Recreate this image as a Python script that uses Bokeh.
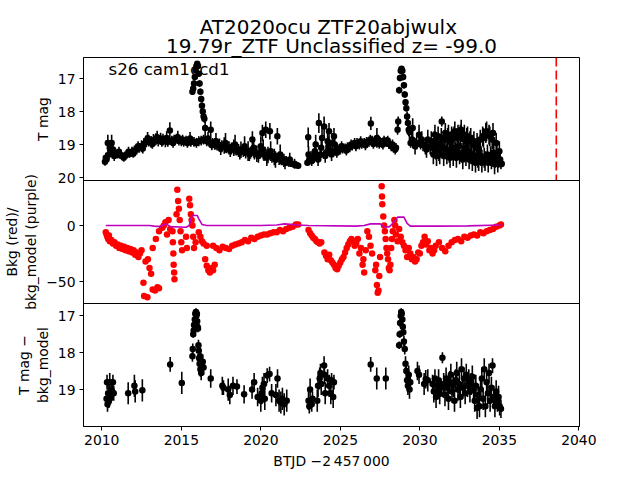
from bokeh.plotting import figure
from bokeh.layouts import column
from bokeh.models import Range1d, FixedTicker, Label, Span, LinearAxis
from bokeh.embed import file_html
from bokeh.resources import INLINE

FONT = "DejaVu Sans"

TITLE1 = "AT2020ocu  ZTF20abjwulx"
TITLE2 = "19.79r_ZTF Unclassified z= -99.0"
SECTOR_TEXT = "s26 cam1ccd1"
DISC_T = 2038.58

# ---------------- Panel 1: T mag light curve (time, mag, error) ----------------
t_lc = [2010.20, 2010.30, 2010.38, 2010.45, 2010.55, 2010.62, 2010.70, 2010.85, 2011.00, 2011.15,
        2011.30, 2011.45, 2011.60, 2011.75, 2011.90, 2012.05, 2012.20, 2012.35, 2012.50, 2012.65,
        2012.80, 2012.95, 2013.10, 2013.25, 2013.40, 2013.55, 2013.70, 2013.85, 2014.00, 2014.15,
        2014.28, 2014.40, 2014.55, 2014.70, 2014.85, 2015.00, 2015.15, 2015.30, 2015.45, 2015.60,
        2015.70, 2015.75, 2015.80, 2015.85, 2015.90, 2015.95, 2016.00, 2016.05, 2016.10, 2016.15,
        2016.20, 2016.25, 2016.30, 2016.35, 2016.40, 2016.45, 2016.50,
        2015.80, 2015.95, 2016.10, 2016.25, 2016.40, 2016.60, 2016.75, 2016.85, 2016.95, 2017.10,
        2017.25, 2017.40, 2017.55, 2017.70, 2017.85, 2018.00, 2018.15, 2018.30, 2018.45, 2018.60,
        2018.75, 2018.90, 2019.05, 2019.20, 2019.35, 2019.47, 2019.60, 2019.75, 2019.90, 2020.00,
        2020.10, 2020.20, 2020.31, 2020.45, 2020.57, 2020.70, 2020.85, 2021.04, 2021.00, 2021.15,
        2021.30, 2021.45, 2021.60, 2021.75, 2021.90, 2022.05, 2022.20, 2022.35,
        2010.25, 2010.50, 2010.78, 2011.08, 2011.38, 2011.68, 2011.98, 2012.28, 2012.58, 2012.88,
        2013.18, 2013.48, 2013.78, 2014.08, 2014.48, 2014.78, 2015.08, 2015.38, 2015.55, 2016.68,
        2016.92, 2017.18, 2017.48, 2017.78, 2018.08, 2018.38, 2018.68, 2018.98, 2019.28, 2019.55,
        2019.85, 2020.15, 2020.38, 2020.62, 2020.92, 2021.22, 2021.52, 2021.82, 2022.12,
        2022.93, 2022.98, 2023.05, 2023.15, 2023.25, 2023.35, 2023.45, 2023.55, 2023.65, 2023.75,
        2023.85, 2023.98, 2024.10, 2024.20, 2024.29, 2024.40, 2024.50, 2024.60, 2024.70, 2024.85,
        2025.00, 2025.15, 2025.30, 2025.45, 2025.60, 2025.75, 2025.90, 2026.05, 2026.20, 2026.35,
        2026.50, 2026.65, 2026.80, 2026.92, 2027.00, 2027.15, 2027.30, 2027.45, 2027.60, 2027.75,
        2027.90, 2028.05, 2028.20, 2028.35, 2028.50, 2028.60, 2028.64, 2028.70, 2028.75, 2028.80,
        2028.85, 2028.90, 2028.95, 2029.00, 2029.05, 2029.10, 2029.15, 2029.20, 2029.25, 2029.30,
        2029.35, 2029.42, 2029.55, 2029.62, 2029.80, 2029.95, 2030.05, 2030.20, 2030.35, 2030.50,
        2030.65, 2030.80, 2030.90, 2031.00, 2031.10, 2031.20, 2031.30, 2031.38, 2031.45, 2031.55,
        2031.65, 2031.75, 2031.85, 2031.95, 2032.05, 2032.15, 2032.25, 2032.35, 2032.45, 2032.55,
        2032.65, 2032.75, 2032.85, 2032.95, 2033.05, 2033.15, 2033.25, 2033.35, 2033.45, 2033.55,
        2033.65, 2033.75, 2033.85, 2033.95, 2034.05, 2034.15, 2034.25, 2034.35, 2034.45, 2034.55,
        2034.65, 2034.75, 2034.85, 2034.95, 2035.05, 2035.15,
        2023.00, 2023.20, 2023.40, 2023.60, 2023.80, 2024.05, 2024.25, 2024.45, 2024.65, 2024.78,
        2025.08, 2025.38, 2025.68, 2025.98, 2026.28, 2026.58, 2026.88, 2027.08, 2027.38, 2027.68,
        2027.98, 2028.28, 2028.45, 2029.50, 2029.70, 2030.12, 2030.42, 2030.72,
        2030.85, 2030.95, 2031.05, 2031.15, 2031.25, 2031.35, 2031.50, 2031.60, 2031.70, 2031.80,
        2031.90, 2032.00, 2032.10, 2032.20, 2032.30, 2032.40, 2032.50, 2032.60, 2032.70, 2032.80,
        2032.90, 2033.00, 2033.10, 2033.20, 2033.30, 2033.40, 2033.50, 2033.60, 2033.70, 2033.80,
        2033.90, 2034.00, 2034.10, 2034.20, 2034.30, 2034.40, 2034.50, 2034.60, 2034.70, 2034.80,
        2034.90, 2035.00, 2035.10]
m_lc = [19.52, 19.45, 18.95, 19.30, 19.20, 18.95, 19.15, 19.25, 19.30, 19.32,
        19.35, 19.33, 19.30, 19.28, 19.22, 19.18, 19.15, 19.10, 19.05, 18.98,
        18.90, 18.88, 18.92, 18.86, 18.84, 18.88, 18.82, 18.85, 18.90, 18.92,
        18.57, 18.88, 18.85, 18.82, 18.88, 18.90, 18.92, 18.88, 18.90, 18.92,
        17.40, 17.30, 17.15, 16.95, 16.75, 16.62, 16.55, 16.62, 16.85, 17.15,
        17.40, 17.62, 17.82, 18.00, 18.15, 18.22, 18.50,
        18.92, 18.95, 18.90, 18.88, 18.85, 18.90, 18.92, 18.55, 18.95, 18.98,
        19.00, 19.02, 19.05, 19.03, 19.08, 19.10, 19.12, 19.10, 19.15, 19.18,
        19.16, 19.20, 19.22, 19.20, 19.25, 18.85, 19.25, 19.28, 19.26, 19.05,
        18.65, 19.30, 18.55, 19.32, 18.60, 19.35, 19.38, 18.75, 19.40, 19.42,
        19.45, 19.48, 19.50, 19.55, 19.58, 19.60, 19.62, 19.64,
        19.40, 19.10, 19.35, 19.22, 19.40, 19.22, 19.28, 19.05, 19.12, 18.82,
        18.98, 18.78, 18.92, 18.80, 18.95, 18.78, 18.85, 18.95, 18.82, 18.82,
        19.02, 18.90, 19.12, 18.95, 19.18, 19.00, 19.25, 19.05, 19.30, 19.10,
        19.35, 19.15, 19.40, 19.20, 19.45, 19.30, 19.55, 19.45, 19.58,
        19.55, 18.78, 19.45, 19.40, 19.38, 19.35, 19.00, 19.32, 18.35, 19.30,
        18.80, 18.45, 19.25, 18.90, 18.60, 19.22, 18.95, 18.75, 19.18, 19.15,
        19.15, 19.12, 19.12, 19.08, 19.08, 19.03, 18.95, 18.95, 19.00, 18.98,
        18.95, 18.92, 18.92, 18.36, 18.88, 18.90, 18.80, 18.98, 18.95, 18.88,
        18.92, 18.98, 19.05, 19.10, 19.10, 18.55, 18.30, 17.35, 16.98, 16.76,
        16.70, 16.76, 16.95, 17.20, 17.48, 17.72, 17.90, 18.15, 18.35, 18.55,
        18.62, 18.95, 18.50, 18.92, 18.95, 18.70, 19.00, 19.00, 19.05, 18.85,
        19.05, 19.10, 18.90, 19.15, 18.95, 19.20, 19.00, 18.30, 19.10, 18.85,
        19.15, 18.80, 19.25, 18.90, 19.10, 18.75, 19.20, 18.80, 19.05, 18.70,
        19.25, 18.85, 19.10, 18.80, 19.20, 18.90, 19.30, 19.00, 19.35, 19.10,
        19.40, 19.20, 19.35, 18.75, 19.40, 18.65, 19.30, 18.70, 19.35, 18.85,
        19.25, 19.45, 19.30, 19.50, 19.45, 19.58,
        19.30, 19.50, 19.20, 19.45, 19.10, 19.35, 19.05, 19.30, 19.00, 19.25,
        19.05, 19.18, 19.00, 19.05, 18.90, 19.02, 18.85, 18.98, 18.85, 19.00,
        18.88, 19.00, 19.15, 18.85, 19.05, 18.85, 19.15, 18.90,
        19.30, 18.70, 19.35, 18.75, 19.30, 18.80, 19.35, 18.65, 19.30, 18.70,
        19.40, 18.75, 19.35, 18.60, 19.40, 18.70, 19.30, 18.55, 19.45, 18.70,
        19.35, 18.75, 19.45, 18.80, 19.50, 18.90, 19.55, 18.95, 19.50, 18.85,
        19.55, 18.80, 19.50, 18.60, 19.55, 18.75, 19.45, 18.65, 19.60, 18.95,
        19.55, 19.20, 19.60]
e_lc = [0.12, 0.15, 0.25, 0.15, 0.15, 0.25, 0.15, 0.15, 0.12, 0.12,
        0.12, 0.12, 0.12, 0.12, 0.15, 0.15, 0.15, 0.15, 0.18, 0.18,
        0.18, 0.18, 0.18, 0.18, 0.18, 0.18, 0.18, 0.18, 0.18, 0.15,
        0.25, 0.15, 0.15, 0.15, 0.15, 0.15, 0.15, 0.15, 0.15, 0.15,
        0.10, 0.10, 0.10, 0.10, 0.08, 0.08, 0.08, 0.08, 0.08, 0.10,
        0.10, 0.10, 0.10, 0.10, 0.10, 0.12, 0.30,
        0.15, 0.15, 0.15, 0.15, 0.15, 0.15, 0.15, 0.25, 0.15, 0.18,
        0.18, 0.20, 0.18, 0.25, 0.18, 0.20, 0.18, 0.25, 0.18, 0.20,
        0.25, 0.18, 0.20, 0.30, 0.18, 0.25, 0.20, 0.25, 0.18, 0.30,
        0.25, 0.20, 0.25, 0.25, 0.25, 0.20, 0.25, 0.25, 0.15, 0.20,
        0.18, 0.20, 0.15, 0.12, 0.10, 0.10, 0.10, 0.10,
        0.15, 0.20, 0.15, 0.15, 0.12, 0.15, 0.12, 0.15, 0.15, 0.20,
        0.15, 0.20, 0.15, 0.20, 0.15, 0.20, 0.15, 0.15, 0.20, 0.20,
        0.15, 0.25, 0.20, 0.30, 0.20, 0.30, 0.20, 0.30, 0.20, 0.30,
        0.20, 0.30, 0.25, 0.30, 0.25, 0.30, 0.20, 0.20, 0.15,
        0.10, 0.30, 0.15, 0.20, 0.20, 0.20, 0.30, 0.15, 0.30, 0.20,
        0.30, 0.30, 0.15, 0.30, 0.25, 0.15, 0.30, 0.25, 0.15, 0.15,
        0.15, 0.15, 0.15, 0.15, 0.15, 0.15, 0.15, 0.15, 0.15, 0.15,
        0.15, 0.15, 0.15, 0.20, 0.15, 0.15, 0.30, 0.15, 0.15, 0.15,
        0.15, 0.15, 0.15, 0.15, 0.15, 0.15, 0.15, 0.10, 0.10, 0.08,
        0.08, 0.08, 0.10, 0.10, 0.10, 0.10, 0.10, 0.15, 0.15, 0.20,
        0.20, 0.15, 0.30, 0.15, 0.20, 0.30, 0.15, 0.20, 0.25, 0.30,
        0.25, 0.25, 0.30, 0.30, 0.30, 0.30, 0.30, 0.15, 0.30, 0.30,
        0.30, 0.30, 0.30, 0.30, 0.30, 0.30, 0.30, 0.30, 0.30, 0.30,
        0.30, 0.30, 0.30, 0.30, 0.30, 0.30, 0.30, 0.30, 0.30, 0.30,
        0.30, 0.30, 0.30, 0.30, 0.30, 0.30, 0.30, 0.30, 0.30, 0.30,
        0.30, 0.25, 0.30, 0.20, 0.20, 0.10,
        0.25, 0.15, 0.30, 0.20, 0.30, 0.20, 0.30, 0.20, 0.30, 0.15,
        0.15, 0.15, 0.15, 0.15, 0.15, 0.15, 0.15, 0.15, 0.15, 0.15,
        0.15, 0.15, 0.15, 0.20, 0.25, 0.25, 0.25, 0.30,
        0.30, 0.30, 0.30, 0.30, 0.30, 0.30, 0.30, 0.30, 0.30, 0.30,
        0.30, 0.30, 0.30, 0.30, 0.30, 0.30, 0.30, 0.30, 0.30, 0.30,
        0.30, 0.30, 0.30, 0.30, 0.30, 0.30, 0.30, 0.30, 0.30, 0.30,
        0.30, 0.30, 0.30, 0.30, 0.30, 0.30, 0.30, 0.30, 0.30, 0.30,
        0.30, 0.30, 0.15]

# ---------------- Panel 2: background (red) and background model (purple) ----------------
t_bkg = [2010.25, 2010.30, 2010.35, 2010.40, 2010.45, 2010.50, 2010.60, 2010.70, 2010.80, 2010.90,
         2011.00, 2011.10, 2011.20, 2011.30, 2011.40, 2011.50, 2011.60, 2011.70, 2011.80, 2011.90,
         2012.00, 2012.10, 2012.20, 2012.30, 2012.40, 2012.50, 2012.62, 2012.66, 2012.75, 2012.87,
         2012.90, 2013.00, 2013.10, 2013.20, 2013.35, 2013.50, 2013.60, 2013.20, 2013.40, 2013.60,
         2013.80, 2013.90, 2014.00, 2014.10, 2014.20, 2014.30, 2014.45, 2014.47, 2014.50, 2014.52,
         2014.55, 2014.57, 2014.70, 2014.75, 2014.80, 2014.85, 2014.90, 2014.95, 2015.00, 2015.05,
         2015.30, 2015.35, 2015.50, 2015.55, 2015.60, 2015.65, 2015.70, 2015.75, 2015.80, 2015.90,
         2016.10, 2016.20, 2016.30, 2016.40, 2016.60, 2016.50, 2016.60, 2016.70, 2016.80, 2016.90,
         2017.00, 2017.10, 2017.00, 2017.20, 2017.40, 2017.60, 2017.80, 2018.00, 2018.20, 2018.40,
         2018.60, 2018.80, 2019.00, 2019.20, 2019.40, 2019.60, 2019.80, 2020.00, 2020.20, 2020.40,
         2020.60, 2020.80, 2021.00, 2021.20, 2021.40, 2021.60, 2021.80, 2022.00, 2022.20, 2022.35,
         2023.00, 2023.10, 2023.20, 2023.30, 2023.40, 2023.50, 2023.60, 2023.70, 2023.80,
         2024.00, 2024.10, 2024.20, 2024.30, 2024.40, 2024.50, 2024.60, 2024.70, 2024.80, 2024.90,
         2025.00, 2025.10, 2025.20, 2025.30, 2025.40, 2025.50, 2025.60, 2025.70, 2025.80,
         2025.90, 2026.00, 2026.10, 2026.20, 2026.30, 2026.40, 2026.45, 2026.50, 2026.60, 2026.70,
         2026.80, 2026.90, 2027.00, 2027.20, 2027.25, 2027.30, 2027.35, 2027.40, 2027.45, 2027.50,
         2027.60, 2027.62, 2027.64, 2027.70, 2027.75, 2027.80, 2027.85, 2027.90, 2027.95,
         2028.00, 2028.05, 2028.10, 2028.15, 2028.20, 2028.25, 2028.30, 2028.40, 2028.45, 2028.50,
         2028.60, 2028.70, 2028.80, 2028.90, 2029.00, 2029.10, 2029.20, 2029.30, 2029.40,
         2029.50, 2029.60, 2029.70, 2029.80, 2029.90, 2030.00, 2030.10, 2030.20, 2030.30, 2030.40,
         2030.50, 2030.60, 2030.70, 2030.80, 2030.90, 2031.00, 2031.20, 2031.40, 2031.60, 2031.80,
         2032.00, 2032.20, 2032.40, 2032.60, 2032.80, 2033.00, 2033.20, 2033.40, 2033.60, 2033.80,
         2034.00, 2034.20, 2034.40, 2034.60, 2034.80, 2035.00, 2035.10]
v_bkg = [-6, -8, -10, -12, -9, -14, -13, -16, -15, -18,
         -17, -20, -18, -21, -19, -22, -20, -23, -21, -24,
         -22, -26, -24, -28, -25, -22, -51, -63, -32, -64,
         -30, -38, -43, -57, -58, -55, -56, -20, -12, -5,
         -2, 0, 3, -8, 5, -3, -5, -15, -25, -35,
         -42, -48, 10, 32, 22, 15, 5, -5, -15, -22,
         -10, -20, 24, 18, 10, 5, 0, -10, -20, -15,
         -6, -10, -14, -16, -18, -30, -36, -40, -42, -38,
         -40, -35, -18, -20, -22, -19, -20, -21, -18, -17,
         -16, -15, -13, -14, -11, -12, -10, -9, -8, -8,
         -7, -6, -6, -4, -5, -3, -2, -1, 1, 1,
         -4, -7, -9, -11, -12, -14, -15, -16, -15,
         -24, -27, -30, -26, -31, -33, -35, -38, -39, -36,
         -33, -30, -28, -24, -20, -17, -14, -12, -14,
         -18, -16, -12, -25, -20, -35, -30, -42, -22, -5,
         -10, -18, -25, -40, -35, -53, -60, -58, -45, -28,
         35, 26, 19, 8, 0, -5, -12, -20, -25,
         -30, -38, -40, -35, -20, -12, -5, 5, 0, -8,
         -14, -3, -10, -15, -18, -22, -28, -20, -25,
         -30, -28, -32, -30, -24, -25, -18, -15, -10, -17,
         -14, -22, -20, -25, -22, -18, -15, -20, -23, -18,
         -15, -13, -12, -14, -10, -11, -9, -8, -9, -6,
         -7, -5, -4, -3, -1, 0, 1]
t_model = [2010.25, 2013.00, 2013.30, 2013.70, 2013.90, 2014.10, 2014.30, 2015.30, 2015.50, 2015.60,
           2015.70, 2016.00, 2016.10, 2016.30, 2016.60, 2020.00, 2021.00, 2021.50, 2022.35, 2023.00,
           2026.00, 2026.50, 2026.90, 2027.50, 2027.80, 2028.10, 2028.30, 2028.60, 2029.00, 2029.20,
           2029.40, 2031.00, 2033.00, 2035.10]
v_model = [0.0, 0.0, -0.5, -1.0, 1.0, 1.0, -1.0, -1.5, 0.0, 6.0,
           9.0, 9.0, 6.0, 1.0, 0.0, 0.0, 0.5, 1.5, 0.5, 0.0,
           -0.5, 0.0, 1.5, 1.5, -1.5, -1.0, 2.0, 7.5, 7.5, 2.0,
           -0.5, -0.5, -0.3, 0.5]

# ---------------- Panel 3: T mag - bkg_model (time, mag, error) ----------------
t_diff = [2010.30, 2010.33, 2010.36, 2010.40, 2010.45, 2010.50, 2010.55, 2010.60, 2010.65, 2010.70,
          2010.75, 2011.66, 2012.05, 2012.10, 2012.55, 2014.30, 2015.03,
          2015.70, 2015.72, 2015.75, 2015.78, 2015.80, 2015.85, 2015.88, 2015.92, 2015.95, 2015.98,
          2016.00, 2016.02, 2016.05, 2016.08, 2016.10, 2016.12, 2016.15, 2016.18, 2016.20, 2016.25,
          2016.30, 2016.35, 2016.40, 2016.85, 2017.58, 2017.65, 2017.95, 2018.05, 2018.25, 2018.50,
          2018.95, 2019.45, 2019.58, 2019.80, 2020.00, 2020.05, 2020.10, 2020.20, 2020.25, 2020.40,
          2020.55, 2020.68, 2020.95, 2021.05, 2021.15, 2021.26, 2021.36, 2021.47, 2021.63,
          2023.00, 2023.05, 2023.10, 2023.20, 2023.25, 2023.55, 2023.60, 2023.70, 2023.75, 2023.80,
          2023.98, 2024.00, 2024.05, 2024.20, 2024.30, 2024.40, 2024.45, 2024.55, 2024.60,
          2026.91, 2027.29, 2027.86,
          2028.70, 2028.73, 2028.76, 2028.80, 2028.83, 2028.86, 2028.90, 2028.93, 2028.96, 2029.00,
          2029.05, 2029.10, 2029.15, 2029.20, 2029.25, 2029.30, 2029.35, 2029.40, 2029.85, 2029.95,
          2030.27, 2030.37, 2030.50,
          2030.80, 2030.88, 2030.95, 2031.02, 2031.10, 2031.18, 2031.25, 2031.32, 2031.42, 2031.50,
          2031.58, 2031.65, 2031.72, 2031.80, 2031.88, 2031.95, 2032.02, 2032.10, 2032.18, 2032.25,
          2032.32, 2032.40, 2032.48, 2032.55, 2032.62, 2032.70, 2032.78, 2032.85, 2032.92, 2033.00,
          2033.08, 2033.15, 2033.22, 2033.30, 2033.38, 2033.45, 2033.52, 2033.60, 2033.68, 2033.75,
          2033.82, 2033.90, 2033.98, 2034.05, 2034.12, 2034.20, 2034.28, 2034.35, 2034.42, 2034.50,
          2034.57, 2034.65, 2034.72, 2034.80, 2034.88, 2034.95, 2035.02, 2035.10]
m_diff = [19.25, 18.80, 19.40, 19.10, 19.30, 18.80, 19.20, 19.00, 19.05, 18.80,
          19.10, 19.10, 18.90, 19.05, 19.02, 18.32, 18.82,
          18.10, 17.90, 17.50, 17.40, 17.25, 17.10, 16.95, 16.90, 17.00, 16.95,
          17.15, 17.30, 17.35, 17.80, 17.95, 18.15, 18.30, 18.10, 18.45, 18.55,
          18.35, 18.25, 18.40, 18.70, 18.90, 18.95, 19.00, 19.15, 18.90, 18.92,
          19.13, 19.00, 18.80, 19.20, 19.30, 19.10, 18.95, 18.85, 19.25, 18.62,
          18.58, 19.10, 19.15, 18.70, 19.30, 19.35, 19.25, 19.40, 19.30,
          19.30, 19.45, 19.00, 19.40, 19.25, 19.30, 18.90, 18.70, 18.55, 18.85,
          18.35, 18.60, 19.10, 18.70, 18.90, 19.10, 18.75, 19.20, 18.80,
          18.32, 18.70, 18.70,
          17.80, 17.50, 17.20, 17.00, 16.90, 16.95, 17.10, 17.30, 17.45, 17.70,
          17.90, 18.30, 18.50, 18.75, 18.90, 18.60, 19.00, 18.80, 18.50, 18.60,
          18.85, 18.72, 18.75,
          18.85, 19.05, 18.70, 19.20, 18.90, 18.75, 19.10, 18.95, 18.14, 18.85,
          19.15, 18.70, 18.95, 19.25, 18.80, 18.60, 19.05, 18.90, 19.30, 18.75,
          18.55, 19.00, 18.85, 19.20, 18.45, 18.95, 18.70, 19.10, 18.60, 18.90,
          18.75, 19.05, 18.85, 18.65, 19.00, 19.30, 18.90, 19.50, 19.15, 19.45,
          19.00, 18.70, 19.25, 18.45, 19.45, 18.80, 19.10, 18.55, 19.30, 18.95,
          18.35, 19.20, 19.45, 19.05, 19.30, 19.20, 19.45, 19.52]
e_diff = [0.20, 0.20, 0.20, 0.25, 0.20, 0.25, 0.20, 0.20, 0.25, 0.20,
          0.20, 0.30, 0.30, 0.30, 0.30, 0.20, 0.30,
          0.15, 0.15, 0.10, 0.10, 0.10, 0.10, 0.10, 0.10, 0.10, 0.10,
          0.10, 0.10, 0.10, 0.15, 0.15, 0.20, 0.20, 0.20, 0.20, 0.20,
          0.20, 0.20, 0.20, 0.25, 0.25, 0.20, 0.30, 0.25, 0.25, 0.20,
          0.25, 0.25, 0.25, 0.25, 0.30, 0.30, 0.30, 0.30, 0.30, 0.20,
          0.20, 0.25, 0.30, 0.25, 0.30, 0.30, 0.30, 0.30, 0.30,
          0.25, 0.20, 0.30, 0.20, 0.20, 0.30, 0.30, 0.30, 0.25, 0.30,
          0.25, 0.25, 0.30, 0.25, 0.30, 0.30, 0.20, 0.30, 0.20,
          0.20, 0.30, 0.30,
          0.10, 0.10, 0.10, 0.10, 0.10, 0.10, 0.10, 0.10, 0.10, 0.15,
          0.15, 0.20, 0.20, 0.25, 0.25, 0.25, 0.25, 0.25, 0.25, 0.25,
          0.30, 0.25, 0.30,
          0.25, 0.30, 0.25, 0.30, 0.25, 0.30, 0.30, 0.25, 0.15, 0.30,
          0.30, 0.30, 0.25, 0.30, 0.30, 0.30, 0.30, 0.30, 0.30, 0.30,
          0.30, 0.30, 0.30, 0.30, 0.30, 0.30, 0.30, 0.30, 0.30, 0.30,
          0.30, 0.30, 0.30, 0.30, 0.30, 0.30, 0.30, 0.30, 0.30, 0.30,
          0.30, 0.30, 0.30, 0.30, 0.30, 0.30, 0.30, 0.25, 0.30, 0.30,
          0.20, 0.30, 0.30, 0.30, 0.30, 0.30, 0.25, 0.25]

X_TICKS = [2010, 2015, 2020, 2025, 2030, 2035, 2040]
Y1_TICKS = [17, 18, 19, 20]
Y2_TICKS = [-50, 0]
Y3_TICKS = [17, 18, 19]

FS = "13.9px"
FRAME_W = 496
FRAME_H = 123
OVER = 14
TOP_H = 57

x_range = Range1d(2008.85, 2040.04)


def make_fig(y_range, label, ticks, top, bottom, margin, overrides=None):
    p = figure(frame_width=FRAME_W, frame_height=FRAME_H, x_range=x_range, y_range=y_range,
               output_backend="svg", toolbar_location=None, title=None,
               min_border_left=72, min_border_right=40, min_border_top=top,
               min_border_bottom=bottom, x_axis_location=None, margin=margin)
    p.outline_line_color = "black"
    p.outline_line_width = 1
    p.outline_line_alpha = 1
    p.xgrid.visible = False
    p.ygrid.visible = False
    p.background_fill_color = None
    p.border_fill_color = None
    ax = p.yaxis[0]
    ax.ticker = FixedTicker(ticks=ticks)
    if overrides:
        ax.major_label_overrides = overrides
    ax.major_tick_out = 4
    ax.major_tick_in = 0
    ax.minor_tick_line_color = None
    ax.axis_line_color = "black"
    ax.major_tick_line_color = "black"
    ax.major_label_text_font = FONT
    ax.major_label_text_font_size = FS
    ax.major_label_text_color = "black"
    ax.major_label_standoff = 4
    ax.axis_label = label
    ax.axis_label_text_font = FONT
    ax.axis_label_text_font_size = FS
    ax.axis_label_text_font_style = "normal"
    ax.axis_label_text_color = "black"
    ax.axis_label_standoff = 4
    return p


def errorbars(p, t, m, e):
    lo = [mi - ei for mi, ei in zip(m, e)]
    hi = [mi + ei for mi, ei in zip(m, e)]
    p.segment(x0=t, y0=lo, x1=t, y1=hi, line_color="black", line_width=1.6)
    p.scatter(t, m, size=6.5, fill_color="black", line_color="black", line_width=0)


# Title strip (a frame without axes that holds the two title lines)
pt = figure(frame_width=FRAME_W, frame_height=TOP_H, x_range=x_range, y_range=Range1d(0, TOP_H),
            output_backend="svg", toolbar_location=None, title=None,
            min_border_left=72, min_border_right=40, min_border_top=0, min_border_bottom=0,
            x_axis_location=None, y_axis_location=None)
pt.outline_line_color = None
pt.xgrid.visible = False
pt.ygrid.visible = False
pt.background_fill_color = None
pt.border_fill_color = None
x_mid = (x_range.start + x_range.end) / 2
pt.add_layout(Label(x=x_mid, y=30.7, text=TITLE1, text_align="center",
                    text_baseline="alphabetic", text_font=FONT,
                    text_font_size="20px", text_color="black"))
pt.add_layout(Label(x=x_mid, y=11.3, text=TITLE2, text_align="center",
                    text_baseline="alphabetic", text_font=FONT,
                    text_font_size="20px", text_color="black"))

# Panel 1
Y1_TOP = 16.36
p1 = make_fig(Range1d(20.09, Y1_TOP), "T mag", Y1_TICKS, 0, OVER, (0, 0, 0, 0))
errorbars(p1, t_lc, m_lc, e_lc)
p1.add_layout(Span(location=DISC_T, dimension="height", line_color="red",
                   line_dash="9 4", line_width=1.6))
p1.add_layout(Label(x=2010.42, y=16.72, text=SECTOR_TEXT, text_font=FONT,
                    text_font_size="16.7px", text_baseline="alphabetic", text_align="left",
                    text_color="black"))

# Panel 2
p2 = make_fig(Range1d(-69.6, 40.2), "Bkg (red)/\nbkg_model (purple)", Y2_TICKS,
              OVER, OVER, (-2 * OVER, 0, 0, 0), {-50: "\u221250"})
p2.scatter(t_bkg, v_bkg, size=6.5, fill_color="red", line_color="red", line_width=0)
p2.line(t_model, v_model, line_color="#bf00bf", line_width=1.6)

# Panel 3
p3 = make_fig(Range1d(20.0, 16.67), "T mag \u2212\nbkg_model", Y3_TICKS, OVER, 0,
              (-2 * OVER, 0, 0, 0))
errorbars(p3, t_diff, m_diff, e_diff)
xa = LinearAxis(ticker=FixedTicker(ticks=X_TICKS))
xa.major_tick_out = 4
xa.major_tick_in = 0
xa.minor_tick_line_color = None
xa.axis_line_color = "black"
xa.major_tick_line_color = "black"
xa.major_label_text_font = FONT
xa.major_label_text_font_size = FS
xa.major_label_text_color = "black"
xa.major_label_standoff = 4
xa.axis_label = "BTJD \u22122\u2009457\u2009000"
xa.axis_label_text_font = FONT
xa.axis_label_text_font_size = FS
xa.axis_label_text_font_style = "normal"
xa.axis_label_text_color = "black"
xa.axis_label_standoff = 5
p3.add_layout(xa, "below")

layout = column(pt, p1, p2, p3, spacing=0)
open("out.html", "w").write(file_html(layout, INLINE))
